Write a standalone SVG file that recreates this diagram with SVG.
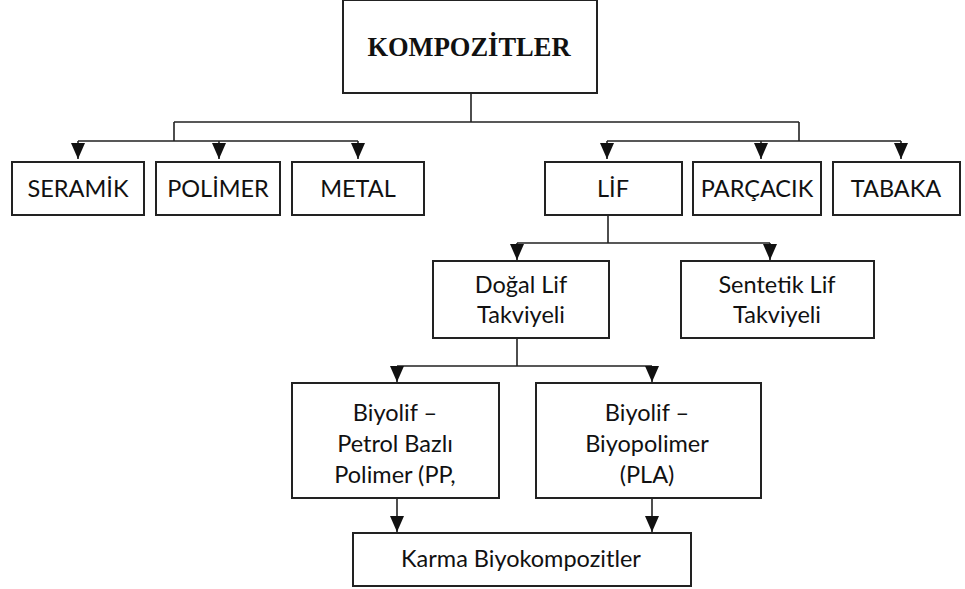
<svg xmlns="http://www.w3.org/2000/svg" width="965" height="589" viewBox="0 0 965 589">
<style>
.box{fill:#fff;stroke:#222;stroke-width:2}
.t{font-family:Lato,"Liberation Sans",sans-serif;font-size:23.5px;fill:#111;text-anchor:middle}
.title{font-family:"Liberation Serif",serif;font-size:26.5px;font-weight:bold;fill:#111;text-anchor:middle}
.ln{fill:none;stroke:#222;stroke-width:1.6}
</style>
<defs>
<marker id="ah" markerUnits="userSpaceOnUse" markerWidth="16" markerHeight="14" refX="16" refY="7" orient="auto" viewBox="0 0 16 14">
<path d="M0,0 L16,7 L0,14 Z" fill="#111"/>
</marker>
</defs>
<rect width="965" height="589" fill="#fff"/>
<g id="connectors">
<path class="ln" d="M471,93 V122 M174,122 H799 M174,122 V141 M607,141 H901 M799,122 V141 M78,141 H358"/>
<path class="ln" d="M78,141 V159" marker-end="url(#ah)"/>
<path class="ln" d="M219,141 V159" marker-end="url(#ah)"/>
<path class="ln" d="M358,141 V159" marker-end="url(#ah)"/>
<path class="ln" d="M607,141 V159" marker-end="url(#ah)"/>
<path class="ln" d="M761,141 V159" marker-end="url(#ah)"/>
<path class="ln" d="M901,141 V159" marker-end="url(#ah)"/>
<path class="ln" d="M608,215 V243 M517,243 H770"/>
<path class="ln" d="M517,243 V260" marker-end="url(#ah)"/>
<path class="ln" d="M770,243 V260" marker-end="url(#ah)"/>
<path class="ln" d="M517,338 V366 M397,366 H652"/>
<path class="ln" d="M397,366 V382" marker-end="url(#ah)"/>
<path class="ln" d="M652,366 V382" marker-end="url(#ah)"/>
<path class="ln" d="M397,498 V532" marker-end="url(#ah)"/>
<path class="ln" d="M652,498 V532" marker-end="url(#ah)"/>
</g>
<g id="kompozitler"><rect class="box" x="343" y="0" width="254" height="93"/><text class="title" x="469" y="56">KOMPOZİTLER</text></g>
<g id="seramik"><rect class="box" x="12" y="162" width="132" height="53"/><text class="t" x="78" y="197">SERAMİK</text></g>
<g id="polimer"><rect class="box" x="156" y="162" width="124" height="53"/><text class="t" x="218" y="197">POLİMER</text></g>
<g id="metal"><rect class="box" x="292" y="162" width="132" height="53"/><text class="t" x="358" y="197">METAL</text></g>
<g id="lif"><rect class="box" x="545" y="162" width="137" height="53"/><text class="t" x="613" y="197">LİF</text></g>
<g id="parcacik"><rect class="box" x="693" y="162" width="128" height="53"/><text class="t" x="757" y="197">PARÇACIK</text></g>
<g id="tabaka"><rect class="box" x="833" y="162" width="127" height="53"/><text class="t" x="896" y="197">TABAKA</text></g>
<g id="dogal"><rect class="box" x="433" y="261" width="176" height="77"/><text class="t" x="521" y="293">Doğal Lif</text><text class="t" x="521" y="323">Takviyeli</text></g>
<g id="sentetik"><rect class="box" x="681" y="261" width="193" height="77"/><text class="t" x="777" y="293">Sentetik Lif</text><text class="t" x="777" y="323">Takviyeli</text></g>
<g id="biyolif-pp"><rect class="box" x="292" y="383" width="207" height="115"/><text class="t" x="395" y="421">Biyolif –</text><text class="t" x="395" y="452">Petrol Bazlı</text><text class="t" x="395" y="483">Polimer (PP,</text></g>
<g id="biyolif-pla"><rect class="box" x="536" y="383" width="225" height="115"/><text class="t" x="647" y="421">Biyolif –</text><text class="t" x="647" y="452">Biyopolimer</text><text class="t" x="647" y="483">(PLA)</text></g>
<g id="karma"><rect class="box" x="353" y="533" width="338" height="53"/><text class="t" x="521" y="567">Karma Biyokompozitler</text></g>
</svg>
